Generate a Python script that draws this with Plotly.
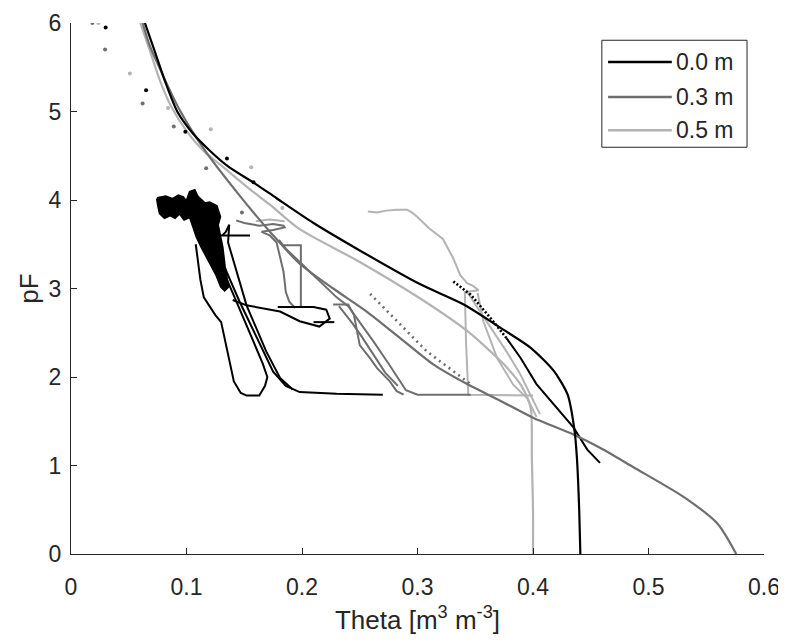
import plotly.graph_objects as go

# ---------------- data (theta [m3 m-3], pF) ----------------
BLACK = "#000000"
DGRAY = "#6e6e6e"
LGRAY = "#b3b3b3"

# fitted retention curves
fit00_theta = [0.064, 0.072, 0.082, 0.092, 0.105, 0.120, 0.136, 0.160, 0.178, 0.210, 0.250,
               0.302, 0.340, 0.375, 0.398, 0.418, 0.430, 0.436, 0.438, 0.440, 0.441]
fit00_pf = [6.0, 5.7, 5.32, 5.0, 4.76, 4.56, 4.38, 4.18, 4.02, 3.74, 3.43,
            3.05, 2.82, 2.53, 2.33, 2.07, 1.80, 1.39, 1.09, 0.5, 0.0]

fit03_theta = [0.062, 0.068, 0.076, 0.094, 0.117, 0.146, 0.175, 0.198, 0.227, 0.256, 0.285,
               0.314, 0.343, 0.372, 0.400, 0.435, 0.458, 0.487, 0.531, 0.560, 0.576]
fit03_pf = [6.0, 5.75, 5.51, 5.02, 4.54, 4.05, 3.6, 3.28, 3.0, 2.74, 2.44,
            2.14, 1.92, 1.73, 1.54, 1.35, 1.2, 0.98, 0.64, 0.34, 0.0]

fit05_theta = [0.060, 0.068, 0.077, 0.087, 0.100, 0.115, 0.132, 0.155, 0.172, 0.198, 0.250,
               0.302, 0.343, 0.375, 0.390, 0.398, 0.399, 0.400, 0.400]
fit05_pf = [6.0, 5.7, 5.35, 5.05, 4.78, 4.55, 4.37, 4.12, 3.95, 3.67, 3.30,
            2.89, 2.52, 2.14, 1.90, 1.65, 1.09, 0.5, 0.0]

# lab measurements (points)
pts00_theta = [0.030, 0.065, 0.099, 0.135, 0.158]
pts00_pf = [5.95, 5.24, 4.77, 4.47, 4.20]
pts03_theta = [0.0185, 0.0295, 0.062, 0.089, 0.117, 0.148]
pts03_pf = [6.0, 5.70, 5.09, 4.83, 4.36, 3.86]
pts05_theta = [0.0237, 0.051, 0.084, 0.121, 0.156, 0.183]
pts05_pf = [6.0, 5.43, 5.04, 4.80, 4.37, 3.91]

# field measurements 0.0 m : dense cluster outline (drawn filled)
blob00_theta = [0.0745, 0.082, 0.088, 0.093, 0.097, 0.100, 0.103, 0.107, 0.109, 0.111, 0.116,
                0.120, 0.126, 0.129, 0.127, 0.128, 0.130, 0.131, 0.133, 0.136, 0.133, 0.130,
                0.126, 0.122, 0.117, 0.113, 0.109, 0.106, 0.103, 0.098, 0.094, 0.090, 0.086,
                0.081, 0.077, 0.0755, 0.0745]
blob00_pf = [4.02, 4.04, 4.01, 4.05, 4.03, 3.98, 4.09, 4.11, 4.05, 4.02, 3.96,
             3.97, 3.93, 3.81, 3.72, 3.66, 3.55, 3.47, 3.25, 3.02, 2.98, 3.02,
             3.15, 3.25, 3.36, 3.47, 3.58, 3.70, 3.81, 3.78, 3.85, 3.80, 3.83,
             3.80, 3.85, 3.94, 4.02]

# field measurements 0.0 m (None separates segments)
meas00_theta = [0.108, 0.112, 0.115, 0.125, 0.130, 0.136, 0.141, 0.147, 0.152, 0.163, 0.168, 0.170,
                0.166, 0.158, 0.150, 0.140, 0.130, 0.124, None,
                0.126, 0.131, 0.146, 0.157, 0.166, 0.175, 0.186, 0.198, 0.230, 0.270, None,
                0.131, 0.134, 0.137, 0.136, 0.152, 0.163, 0.169, 0.181, 0.192, None,
                0.125, 0.155, None,
                0.140, 0.152, 0.181, 0.198, 0.215, 0.221, 0.224, 0.221, 0.210, 0.179, None,
                0.210, 0.228, None,
                0.377, 0.389, 0.403, 0.418, 0.435, 0.447, 0.458]
meas00_pf = [3.50, 3.10, 2.90, 2.70, 2.62, 2.25, 1.95, 1.82, 1.79, 1.79, 1.90, 2.00,
             2.15, 2.40, 2.65, 2.95, 3.25, 3.45, None,
             3.40, 3.30, 2.85, 2.55, 2.29, 2.06, 1.90, 1.83, 1.81, 1.80, None,
             3.60, 3.64, 3.72, 3.52, 2.81, 2.48, 2.29, 1.99, 1.86, None,
             3.60, 3.60, None,
             2.87, 2.81, 2.74, 2.63, 2.57, 2.63, 2.66, 2.76, 2.79, 2.79, None,
             2.62, 2.62, None,
             2.44, 2.22, 1.92, 1.69, 1.43, 1.18, 1.03]
dot00_theta = [0.331, 0.346, 0.363, 0.377]
dot00_pf = [3.08, 2.93, 2.67, 2.44]

# field measurements 0.3 m
meas03_theta = [0.143, 0.150, 0.155, 0.163, 0.175, 0.184, 0.185, 0.175, 0.165, 0.172, 0.178,
                0.181, 0.184, 0.186, 0.189, 0.194, None,
                0.183, 0.199, 0.199, None,
                0.180, 0.186, 0.210, 0.230, 0.240, 0.250, 0.262, 0.275, 0.290, 0.300, 0.346, None,
                0.227, 0.240, 0.245, 0.250, 0.259, 0.265, 0.276, 0.282, 0.288, None,
                0.232, 0.244, 0.252, 0.262, 0.272, 0.283]
meas03_pf = [3.77, 3.74, 3.73, 3.71, 3.73, 3.71, 3.69, 3.66, 3.64, 3.60, 3.52,
             3.37, 3.19, 2.96, 2.85, 2.78, None,
             3.49, 3.49, 2.78, None,
             3.55, 3.45, 3.15, 2.90, 2.80, 2.62, 2.40, 2.15, 1.85, 1.80, 1.80, None,
             2.82, 2.82, 2.70, 2.36, 2.21, 2.10, 1.95, 1.84, 1.80, None,
             2.80, 2.60, 2.45, 2.25, 2.05, 1.90]
dot03_theta = [0.259, 0.308, 0.346]
dot03_pf = [2.94, 2.29, 1.92]

# field measurements 0.5 m
meas05_theta = [0.257, 0.265, 0.273, 0.282, 0.291, 0.295, 0.299, 0.310, 0.322, 0.331, 0.337,
                0.343, 0.348, 0.353, 0.341, 0.342, 0.344, 0.400, None,
                0.343, 0.360, 0.377, 0.389, 0.406, None,
                0.352, 0.357, 0.369, 0.383, 0.395, 0.403, None,
                0.160, 0.172, 0.185]
meas05_pf = [3.87, 3.86, 3.88, 3.89, 3.89, 3.86, 3.82, 3.68, 3.56, 3.34, 3.15,
             3.06, 3.03, 2.98, 2.96, 2.40, 1.80, 1.79, None,
             2.96, 2.63, 2.29, 2.03, 1.58, None,
             2.95, 2.63, 2.21, 1.91, 1.76, 1.55, None,
             3.76, 3.78, 3.76]

legend_labels = ["0.0 m", "0.3 m", "0.5 m"]
legend_colors = [BLACK, DGRAY, LGRAY]

x_ticks = [0, 0.1, 0.2, 0.3, 0.4, 0.5, 0.6]
x_ticktext = ["0", "0.1", "0.2", "0.3", "0.4", "0.5", "0.6"]
y_ticks = [0, 1, 2, 3, 4, 5, 6]

FONT = "Liberation Sans, Arial, sans-serif"
AXC = "#262626"

# ---------------- figure ----------------
fig = go.Figure()

def line(x, y, color, width=2.0, dash=None, shape="linear"):
    fig.add_trace(go.Scatter(x=x, y=y, mode="lines", showlegend=False,
                             line=dict(color=color, width=width, dash=dash, shape=shape,
                                       smoothing=0.7 if shape == "spline" else None),
                             connectgaps=False, hoverinfo="skip"))

# measurements
line(meas05_theta, meas05_pf, LGRAY, 2.0)
line(meas03_theta, meas03_pf, DGRAY, 2.0)
line(dot03_theta, dot03_pf, DGRAY, 2.6, "2px,4px")
fig.add_trace(go.Scatter(x=blob00_theta, y=blob00_pf, mode="lines", fill="toself",
                         fillcolor=BLACK, line=dict(color=BLACK, width=2.5),
                         showlegend=False, hoverinfo="skip"))
line(meas00_theta, meas00_pf, BLACK, 2.0)
line(dot00_theta, dot00_pf, BLACK, 2.6, "2px,2px")

# fitted curves
line(fit05_theta, fit05_pf, LGRAY, 2.2, shape="spline")
line(fit03_theta, fit03_pf, DGRAY, 2.2, shape="spline")
line(fit00_theta, fit00_pf, BLACK, 2.2, shape="spline")

for xs, ys, c in [(pts05_theta, pts05_pf, LGRAY), (pts03_theta, pts03_pf, DGRAY),
                  (pts00_theta, pts00_pf, BLACK)]:
    fig.add_trace(go.Scatter(x=xs, y=ys, mode="markers", showlegend=False,
                             marker=dict(color=c, size=4), hoverinfo="skip"))

# manual legend (MATLAB style box)
shapes = [dict(type="rect", xref="paper", yref="paper", x0=0.766, x1=0.9755, y0=0.766, y1=0.9675,
               line=dict(color=AXC, width=1), fillcolor="white", layer="above")]
annotations = []
ys_leg = [0.9267, 0.8608, 0.7982]
for lab, col, yy in zip(legend_labels, legend_colors, ys_leg):
    shapes.append(dict(type="line", xref="paper", yref="paper", x0=0.775, x1=0.867, y0=yy, y1=yy,
                       line=dict(color=col, width=2.5), layer="above"))
    annotations.append(dict(xref="paper", yref="paper", x=0.870, y=yy, text=lab, showarrow=False,
                            xanchor="left", yanchor="middle",
                            font=dict(size=23, color=AXC, family=FONT)))

# page body adds an 8 px offset; figure is sized so the plot lands where the reference has it
fig.update_layout(
    width=778, height=634,
    margin=dict(l=63, r=22, t=15, b=88),
    paper_bgcolor="white", plot_bgcolor="white",
    font=dict(family=FONT, size=23, color=AXC),
    shapes=shapes, annotations=annotations,
    showlegend=False,
)
fig.update_xaxes(range=[0, 0.6], tickvals=x_ticks, ticktext=x_ticktext, automargin=False,
                 showline=True, linecolor=AXC, linewidth=1, mirror=False,
                 ticks="inside", ticklen=6, tickcolor=AXC, showgrid=False, zeroline=False,
                 tickfont=dict(size=23, family=FONT, color=AXC), ticklabelstandoff=12,
                 title=dict(text="Theta [m<sup>3</sup> m<sup>-3</sup>]",
                            font=dict(size=26, family=FONT, color=AXC), standoff=12))
fig.update_yaxes(range=[0, 6], tickvals=y_ticks, automargin=False,
                 showline=True, linecolor=AXC, linewidth=1, mirror=False,
                 ticks="inside", ticklen=6, tickcolor=AXC, showgrid=False, zeroline=False,
                 tickfont=dict(size=23, family=FONT, color=AXC), ticklabelstandoff=4,
                 title=dict(text="pF", font=dict(size=26, family=FONT, color=AXC), standoff=2))

fig.write_html("out.html")
